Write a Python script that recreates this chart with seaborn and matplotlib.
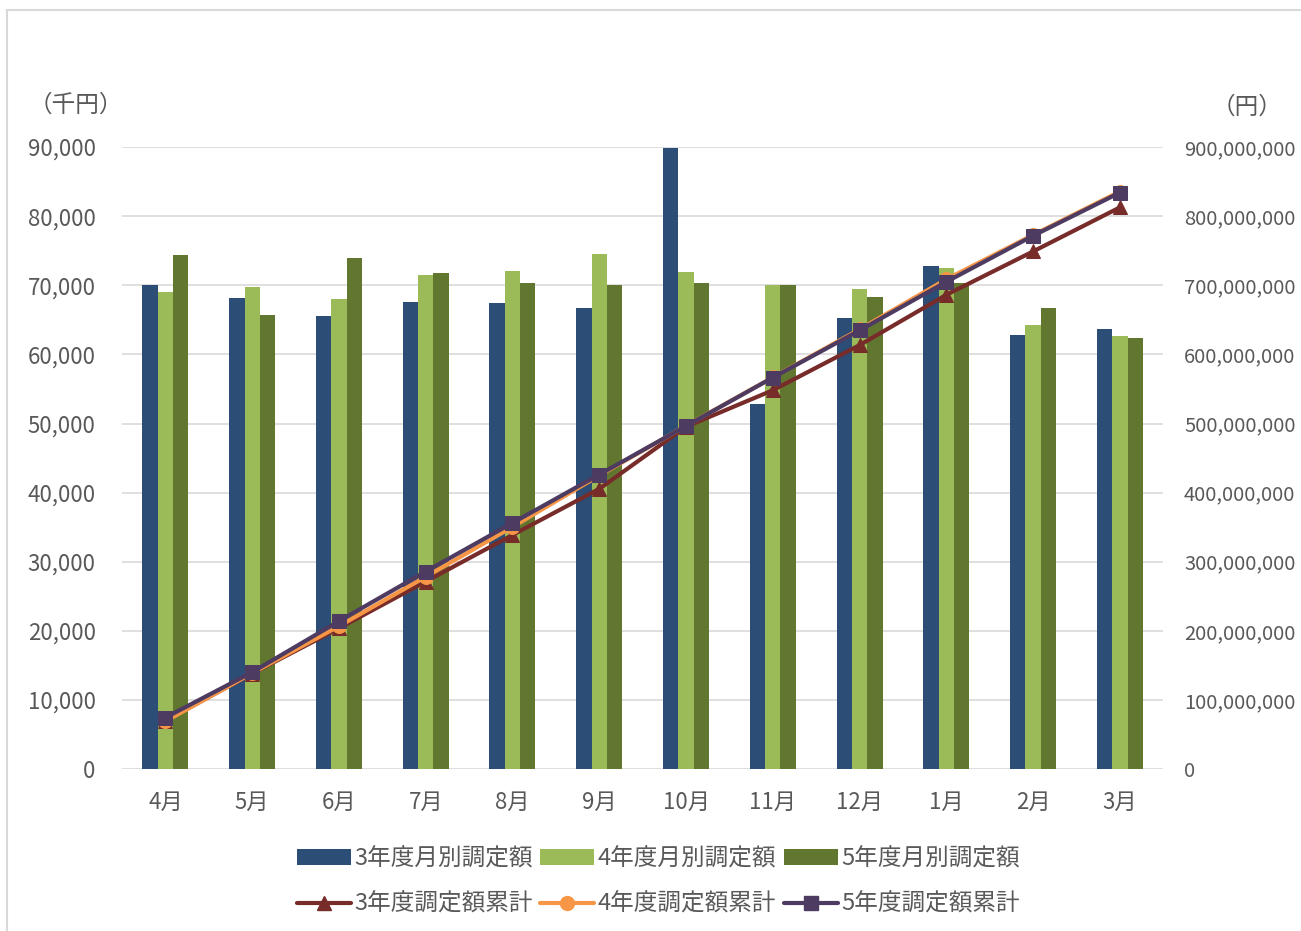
import numpy as np
import pandas as pd
import matplotlib
matplotlib.use("Agg")
import matplotlib.pyplot as plt
import seaborn as sns
from matplotlib.patches import Patch, Rectangle
from matplotlib.lines import Line2D
from matplotlib.ticker import FuncFormatter

# データ（千円）
months = ['4月', '5月', '6月', '7月', '8月', '9月', '10月', '11月', '12月', '1月', '2月', '3月']
r3_monthly = [70.0, 68.2, 65.5, 67.6, 67.4, 66.7, 89.9, 52.8, 65.3, 72.8, 62.8, 63.7]
r4_monthly = [69.0, 69.7, 68.0, 71.5, 72.1, 74.5, 71.9, 70.0, 69.5, 72.5, 64.2, 62.7]
r5_monthly = [74.4, 65.7, 73.9, 71.8, 70.3, 70.0, 70.3, 70.0, 68.3, 70.3, 66.7, 62.4]

# 累計（百万円）
r3_cum = [70.0, 138.2, 203.7, 271.3, 338.7, 405.4, 495.3, 548.1, 613.4, 686.2, 749.0, 812.7]
r4_cum = [69.0, 138.7, 206.7, 278.2, 350.3, 424.8, 496.7, 566.7, 636.2, 708.7, 772.9, 835.6]
r5_cum = [74.4, 140.1, 214.0, 285.8, 356.1, 426.1, 496.4, 566.4, 634.7, 705.0, 771.7, 834.1]

bar_labels = ['3年度月別調定額', '4年度月別調定額', '5年度月別調定額']
line_labels = ['3年度調定額累計', '4年度調定額累計', '5年度調定額累計']
bar_colors = ['#2C4D75', '#9BBB59', '#61772F']
line_colors = ['#772C2A', '#F79646', '#4D3B62']
line_markers = ['^', 'o', 's']

sns.set_theme(style='white')
plt.rcParams['font.family'] = ['Noto Sans CJK JP', 'DejaVu Sans']
text_color = '#595959'
grid_color = '#D9D9D9'

# 棒グラフ用データ
df_bar = pd.DataFrame({
    'month': months * 3,
    'value': np.array(r3_monthly + r4_monthly + r5_monthly) * 1000,
    'series': [bar_labels[0]] * 12 + [bar_labels[1]] * 12 + [bar_labels[2]] * 12,
})

# 折れ線用データ
df_line = pd.DataFrame({
    'pos': list(range(12)) * 3,
    'value': np.array(r3_cum + r4_cum + r5_cum) * 1e6,
    'series': [line_labels[0]] * 12 + [line_labels[1]] * 12 + [line_labels[2]] * 12,
})

fig = plt.figure(figsize=(13.01, 9.31), dpi=100)
ax = fig.add_axes([0.0938, 0.174, 0.8003, 0.668])

sns.barplot(data=df_bar, x='month', y='value', hue='series', order=months,
            hue_order=bar_labels, palette=bar_colors, width=0.53, gap=0,
            saturation=1, linewidth=0, legend=False, ax=ax)

ax.set_xlim(-0.5, 11.5)
ax.set_ylim(0, 90000)
ax.set_yticks(np.arange(0, 90001, 10000))
ax.yaxis.set_major_formatter(FuncFormatter(lambda v, p: f'{int(v):,}'))
ax.grid(axis='y', color=grid_color, lw=1.2)
ax.grid(axis='x', visible=False)
ax.set_axisbelow(True)
for s in ax.spines.values():
    s.set_visible(False)
ax.tick_params(axis='y', length=0, pad=19, labelsize=16, labelcolor=text_color)
ax.tick_params(axis='x', length=0, pad=16, labelsize=16, labelcolor=text_color)
ax.set_xlabel('')
ax.set_ylabel('')

ax2 = ax.twinx()
for lab, col, mk in zip(line_labels, line_colors, line_markers):
    sub = df_line[df_line['series'] == lab]
    sns.lineplot(data=sub, x='pos', y='value', color=col, marker=mk,
                 markersize=10, markeredgecolor=col, lw=3, ax=ax2, legend=False)
ax2.set_ylim(0, 900000000)
ax2.set_yticks(np.arange(0, 900000001, 100000000))
ax2.yaxis.set_major_formatter(FuncFormatter(lambda v, p: f'{int(v):,}'))
ax2.tick_params(axis='y', length=0, pad=15, labelsize=14.5, labelcolor=text_color)
for s in ax2.spines.values():
    s.set_visible(False)
ax2.set_xlabel('')
ax2.set_ylabel('')
ax2.grid(False)
ax2.set_xlim(-0.5, 11.5)

# 単位
fig.text(0.022, 1 - 105 / 931, '（千円）', fontsize=17, color=text_color, va='center', ha='left')
fig.text(0.931, 1 - 107 / 931, '（円）', fontsize=17, color=text_color, va='center', ha='left')

# 凡例
handles = []
labels = []
for i in range(3):
    handles.append(Patch(facecolor=bar_colors[i], edgecolor='none'))
    labels.append(bar_labels[i])
    handles.append(Line2D([], [], color=line_colors[i], lw=3, marker=line_markers[i], markersize=10))
    labels.append(line_labels[i])
fig.legend(handles, labels, ncol=3, loc='center', bbox_to_anchor=(0.506, 0.053),
           frameon=False, fontsize=17, labelcolor=text_color, handlelength=2.3,
           handleheight=0.65, handletextpad=0.15, columnspacing=0.3, labelspacing=0.95)

# 外枠
fig.add_artist(Rectangle((7 / 1301, -0.1), 1.2, 1.1 - 10 / 931, transform=fig.transFigure,
                         fill=False, edgecolor=grid_color, lw=1.5))

fig.savefig('out.png', dpi=100)
